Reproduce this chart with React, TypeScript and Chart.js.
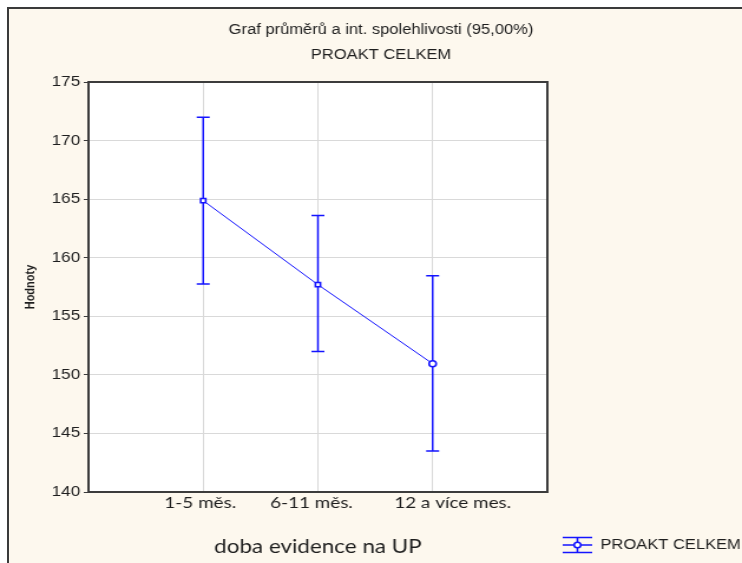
import { useEffect, useRef } from "react";
import { Chart, registerables } from "chart.js";

Chart.register(...registerables);

// Category labels on the x axis
const categories = ["1-5 měs.", "6-11 měs.", "12 a více mes."];
// Group means and 95% confidence limits
const means = [164.87, 157.7, 150.95];
const lowerCI = [157.75, 152.0, 143.5];
const upperCI = [172.0, 163.6, 158.45];
// Value axis range
const yMin = 140;
const yMax = 175;
const yStep = 5;

const titleLines = ["Graf průměrů a int. spolehlivosti (95,00%)", "PROAKT CELKEM"];
const seriesName = "PROAKT CELKEM";
const xAxisTitle = "doba evidence na UP";
const yAxisTitle = "Hodnoty";

// The drawing is laid out on a narrower canvas and widened horizontally.
const CANVAS_W = 629;
const CANVAS_H = 563;
const STRETCH = 742 / CANVAS_W;

// horizontal nudges of the category captions relative to their grid lines
const captionShift = [-2.5, -5.5, 17];

const BLUE = "#1414ff";
const TEXT = "#1e1e1e";
const SANS = '"Liberation Sans", Arial, sans-serif';
const CAL = 'Lato, "Open Sans", sans-serif';

const plotFrame = {
  id: "plotFrame",
  beforeDraw(chart: any) {
    const { ctx, chartArea: a } = chart;
    ctx.save();
    ctx.fillStyle = "#ffffff";
    ctx.fillRect(a.left, a.top, a.right - a.left, a.bottom - a.top);
    ctx.restore();
  },
  afterDraw(chart: any) {
    const { ctx, chartArea: a } = chart;
    ctx.save();
    ctx.strokeStyle = "#3c3c3c";
    ctx.lineWidth = 2;
    ctx.strokeRect(a.left, a.top, a.right - a.left, a.bottom - a.top);

    // category captions under the plot
    const x = chart.scales.x;
    ctx.fillStyle = TEXT;
    ctx.font = `16px ${CAL}`;
    ctx.textAlign = "center";
    ctx.textBaseline = "middle";
    categories.forEach((c, i) => {
      ctx.fillText(c, x.getPixelForValue(i + 1) + captionShift[i], 503);
    });
    ctx.restore();
  },
};

const errorBars = {
  id: "errorBars",
  beforeDatasetsDraw(chart: any) {
    const { ctx } = chart;
    const x = chart.scales.x;
    const y = chart.scales.y;
    const cap = 5.5;
    ctx.save();
    ctx.strokeStyle = BLUE;
    ctx.lineWidth = 1.5;
    means.forEach((_, i) => {
      const px = x.getPixelForValue(i + 1);
      const top = y.getPixelForValue(upperCI[i]);
      const bot = y.getPixelForValue(lowerCI[i]);
      ctx.beginPath();
      ctx.moveTo(px, top);
      ctx.lineTo(px, bot);
      ctx.moveTo(px - cap, top);
      ctx.lineTo(px + cap, top);
      ctx.moveTo(px - cap, bot);
      ctx.lineTo(px + cap, bot);
      ctx.stroke();
    });
    ctx.restore();
  },
};

const headerAndKey = {
  id: "headerAndKey",
  afterDraw(chart: any) {
    const { ctx } = chart;
    ctx.save();
    ctx.fillStyle = TEXT;
    ctx.font = `14px ${SANS}`;
    ctx.textAlign = "center";
    ctx.textBaseline = "middle";
    ctx.fillText(titleLines[0], 323, 30);
    ctx.fillText(titleLines[1], 323, 55);

    // series key: error bar symbol followed by the series name
    const kx0 = 477;
    const kx1 = 502;
    const kc = (kx0 + kx1) / 2;
    const ky = 545;
    ctx.strokeStyle = BLUE;
    ctx.lineWidth = 1.6;
    ctx.beginPath();
    ctx.moveTo(kx0, ky - 7.5);
    ctx.lineTo(kx1, ky - 7.5);
    ctx.moveTo(kx0, ky);
    ctx.lineTo(kx1, ky);
    ctx.moveTo(kx0, ky + 7.5);
    ctx.lineTo(kx1, ky + 7.5);
    ctx.moveTo(kc, ky - 7.5);
    ctx.lineTo(kc, ky + 7.5);
    ctx.stroke();
    ctx.beginPath();
    ctx.fillStyle = "#ffffff";
    ctx.arc(kc, ky, 2.8, 0, Math.PI * 2);
    ctx.fill();
    ctx.stroke();

    ctx.fillStyle = TEXT;
    ctx.textAlign = "left";
    ctx.fillText(seriesName, 509, ky);
    ctx.restore();
  },
};

function MeansChart() {
  const canvasRef = useRef<HTMLCanvasElement | null>(null);

  useEffect(() => {
    const canvas = canvasRef.current;
    if (!canvas) return;
    const chart = new Chart(canvas, {
      type: "line",
      data: {
        datasets: [
          {
            label: seriesName,
            data: means.map((m, i) => ({ x: i + 1, y: m })),
            borderColor: BLUE,
            borderWidth: 1,
            pointStyle: ["rect", "rect", "circle"] as any,
            pointRadius: 3,
            pointBorderWidth: 1.6,
            pointBorderColor: BLUE,
            pointBackgroundColor: "#ffffff",
            tension: 0,
          },
        ],
      },
      options: {
        animation: false,
        responsive: false,
        maintainAspectRatio: false,
        devicePixelRatio: 1,
        layout: { padding: { top: 82, right: 165, left: 0, bottom: 0 } },
        plugins: {
          legend: { display: false },
          title: { display: false },
          tooltip: { enabled: false },
        },
        scales: {
          x: {
            type: "linear",
            min: 0,
            max: categories.length + 1,
            afterBuildTicks: (s: any) => {
              s.ticks = categories.map((_, i) => ({ value: i + 1 }));
            },
            afterFit: (s: any) => {
              s.height = CANVAS_H - 492;
            },
            ticks: {
              display: false,
            },
            grid: { color: "#d9d9d9", lineWidth: 1, drawTicks: false },
            border: { display: false },
            title: {
              display: true,
              text: xAxisTitle,
              color: TEXT,
              font: { family: CAL, size: 19 },
              padding: { top: 0, bottom: 5 },
            },
          },
          y: {
            type: "linear",
            min: yMin,
            max: yMax,
            afterFit: (s: any) => {
              s.width = 75;
            },
            ticks: {
              stepSize: yStep,
              padding: 3,
              color: TEXT,
              font: { family: SANS, size: 14.5 },
            },
            grid: { color: "#d9d9d9", lineWidth: 1, tickColor: "#3c3c3c", tickLength: 4 },
            border: { display: false },
            title: {
              display: true,
              text: yAxisTitle,
              color: TEXT,
              font: { family: SANS, size: 11, weight: "bold" },
              padding: { top: 19, bottom: 0 },
            },
          },
        },
      },
      plugins: [plotFrame, errorBars, headerAndKey],
    });
    return () => chart.destroy();
  }, []);

  return (
    <div
      style={{
        position: "absolute",
        left: 0,
        top: 0,
        width: CANVAS_W,
        height: CANVAS_H,
        transform: `scaleX(${STRETCH})`,
        transformOrigin: "0 0",
      }}
    >
      <canvas ref={canvasRef} width={CANVAS_W} height={CANVAS_H} style={{ display: "block" }} />
    </div>
  );
}

export default function App() {
  return (
    <div
      style={{
        position: "fixed",
        left: 0,
        top: 0,
        width: 742,
        height: 563,
        background: "#ffffff",
        overflow: "hidden",
      }}
    >
      <div
        style={{
          position: "absolute",
          left: 7,
          top: 7,
          width: 735,
          height: 556,
          boxSizing: "border-box",
          background: "#fdf8ee",
          borderLeft: "2px solid #3a3a3a",
          borderTop: "2px solid #3a3a3a",
        }}
      />
      <MeansChart />
    </div>
  );
}
